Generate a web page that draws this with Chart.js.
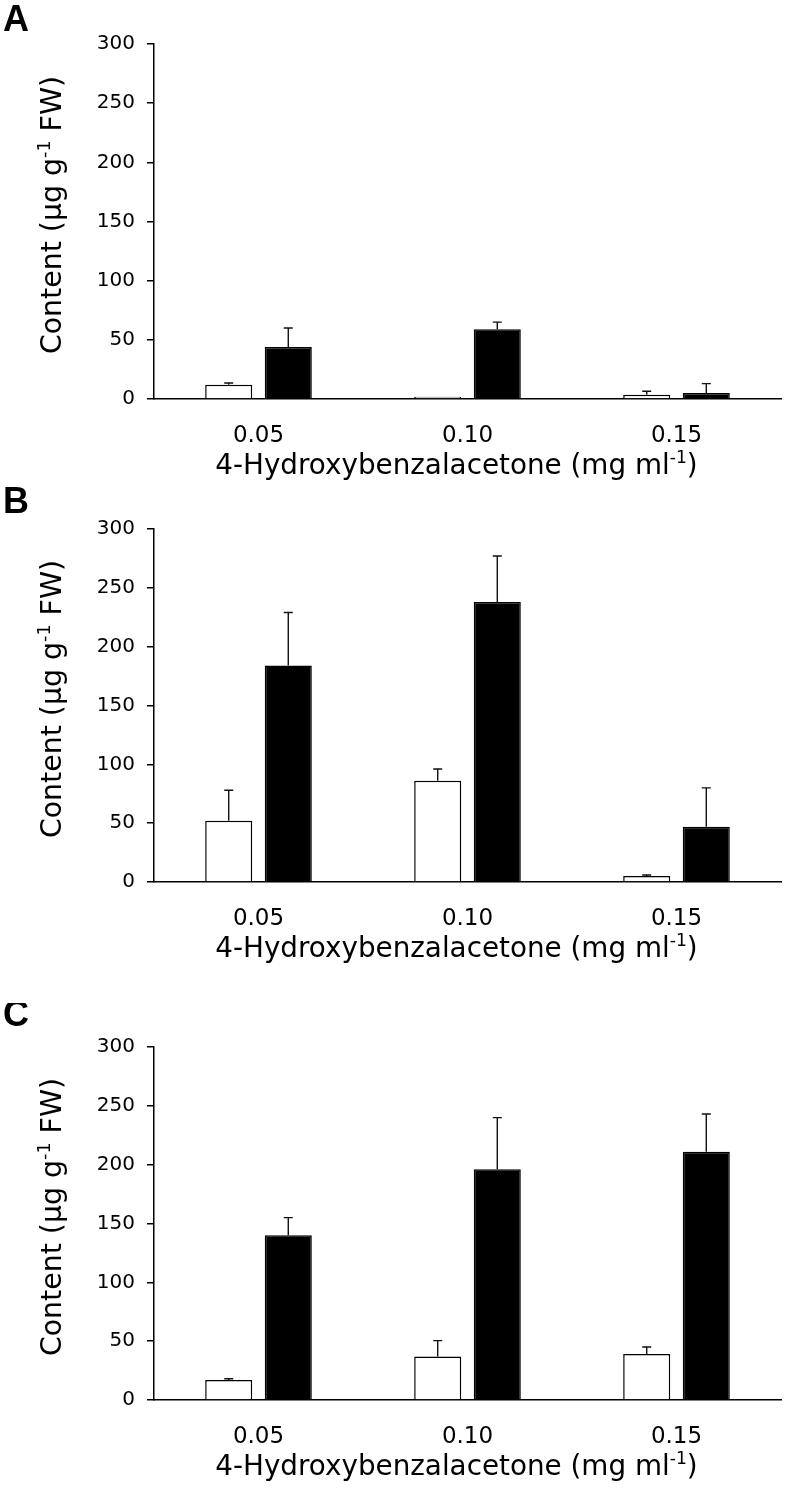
<!DOCTYPE html>
<html>
<head>
<meta charset="utf-8">
<script src="https://cdn.jsdelivr.net/npm/chart.js@4.4.1/dist/chart.umd.min.js"></script>
<style>
  html, body { margin: 0; padding: 0; background: #fff; }
  #wrap { position: relative; width: 785px; height: 1488px; overflow: hidden; }
  canvas { position: absolute; left: 0; }
</style>
</head>
<body>
<div id="wrap">
  <canvas id="chartA" width="785" height="485" style="top:0px"></canvas>
  <canvas id="chartB" width="785" height="488" style="top:485px"></canvas>
  <canvas id="chartC" width="785" height="485" style="top:1003px"></canvas>
</div>
<script>
// concentrations (x categories)
const categories = ["0.05", "0.10", "0.15"]
const yTicks = [0, 50, 100, 150, 200, 250, 300]

// panel A
const whiteA = [12, 2, 3.5]
const whiteErrA = [1.5, 0, 3]
const blackA = [44, 59, 5]
const blackErrA = [16, 6, 8]

// panel B
const whiteB = [52, 86, 5]
const whiteErrB = [26, 10, 1]
const blackB = [184, 238, 47]
const blackErrB = [45, 39, 33]

// panel C
const whiteC = [17, 37, 39]
const whiteErrC = [1, 13.5, 6]
const blackC = [140, 196, 211]
const blackErrC = [15, 44, 32]

const yTitle = [{ t: "Content (\u03bcg g" }, { t: "-1", sup: true }, { t: " FW)" }]
const xTitle = [{ t: "4-Hydroxybenzalacetone (mg ml" }, { t: "-1", sup: true }, { t: ")" }]

const FONT = '"DejaVu Sans", "Liberation Sans", Arial, sans-serif'

function drawRich(ctx, parts, cx, y, size) {
  const supSize = size * 0.62
  let total = 0
  parts.forEach(p => {
    ctx.font = (p.sup ? supSize : size) + "px " + FONT
    p.w = ctx.measureText(p.t).width
    total += p.w
  })
  let x = cx - total / 2
  ctx.textAlign = "left"
  ctx.textBaseline = "alphabetic"
  parts.forEach(p => {
    ctx.font = (p.sup ? supSize : size) + "px " + FONT
    ctx.fillText(p.t, x, p.sup ? y - size * 0.38 : y)
    x += p.w
  })
}

// error bars, drawn up from the bar top
const errorBars = {
  id: "errorBars",
  afterDatasetsDraw(chart) {
    const ctx = chart.ctx
    const yScale = chart.scales.y
    ctx.save()
    ctx.strokeStyle = "#111"
    ctx.lineWidth = 1.4
    chart.data.datasets.forEach((ds, i) => {
      const meta = chart.getDatasetMeta(i)
      meta.data.forEach((bar, j) => {
        const err = ds.errors[j]
        if (!err) return
        const yTop = yScale.getPixelForValue(ds.data[j] + err)
        ctx.beginPath()
        ctx.moveTo(bar.x, bar.y)
        ctx.lineTo(bar.x, yTop)
        ctx.moveTo(bar.x - 4.5, yTop)
        ctx.lineTo(bar.x + 4.5, yTop)
        ctx.stroke()
      })
    })
    ctx.restore()
  },
}

// panel letter and axis titles
const panelDecor = {
  id: "panelDecor",
  afterDraw(chart, args, opts) {
    const { ctx, chartArea } = chart
    ctx.save()
    ctx.fillStyle = "#000"
    ctx.font = 'bold 36px "Liberation Sans", Arial, sans-serif'
    ctx.textAlign = "left"
    ctx.textBaseline = "alphabetic"
    ctx.fillText(opts.letter, 3, opts.letterY)

    drawRich(ctx, xTitle, (chartArea.left + chartArea.right) / 2 - 11, chartArea.bottom + 75, 27.8)

    ctx.translate(61, (chartArea.top + chartArea.bottom) / 2 - 6.5)
    ctx.rotate(-Math.PI / 2)
    drawRich(ctx, yTitle, 0, 0, 28.4)
    ctx.restore()
  },
}

function makePanel(id, letter, letterY, plotHeight, white, whiteErr, black, blackErr) {
  const canvas = document.getElementById(id)
  const xAxisHeight = canvas.height - 44 - plotHeight
  return new Chart(canvas.getContext("2d"), {
    type: "bar",
    data: {
      labels: categories,
      datasets: [
        {
          data: white,
          errors: whiteErr,
          backgroundColor: "#fff",
          borderColor: "#000",
          borderWidth: 1.5,
          categoryPercentage: 0.57,
          barPercentage: 0.79,
        },
        {
          data: black,
          errors: blackErr,
          backgroundColor: "#000",
          borderColor: "#000",
          borderWidth: 1.5,
          categoryPercentage: 0.57,
          barPercentage: 0.79,
        },
      ],
    },
    options: {
      responsive: false,
      animation: false,
      layout: { padding: { top: 44, left: 0, right: 4, bottom: 0 } },
      plugins: {
        legend: { display: false },
        tooltip: { enabled: false },
        panelDecor: { letter: letter, letterY: letterY },
      },
      scales: {
        x: {
          z: 1,
          offset: true,
          grid: { display: false },
          border: { display: true, color: "#000", width: 1.5 },
          ticks: { color: "#000", font: { family: FONT, size: 23 }, padding: 15, maxRotation: 0 },
          afterFit: s => { s.height = xAxisHeight },
        },
        y: {
          min: yTicks[0],
          max: yTicks[yTicks.length - 1],
          afterBuildTicks: s => { s.ticks = yTicks.map(v => ({ value: v })) },
          grid: { drawOnChartArea: false, drawTicks: true, tickLength: 7, color: "#000", lineWidth: 1.5 },
          border: { display: true, color: "#000", width: 1.5 },
          ticks: { color: "#000", font: { family: FONT, size: 20 }, padding: 12 },
          afterFit: s => { s.width = 154 },
        },
      },
    },
    plugins: [errorBars, panelDecor],
  })
}

makePanel("chartA", "A", 30.5, 355, whiteA, whiteErrA, blackA, blackErrA)
makePanel("chartB", "B", 28, 353, whiteB, whiteErrB, blackB, blackErrB)
makePanel("chartC", "C", 23, 353, whiteC, whiteErrC, blackC, blackErrC)
</script>
</body>
</html>
